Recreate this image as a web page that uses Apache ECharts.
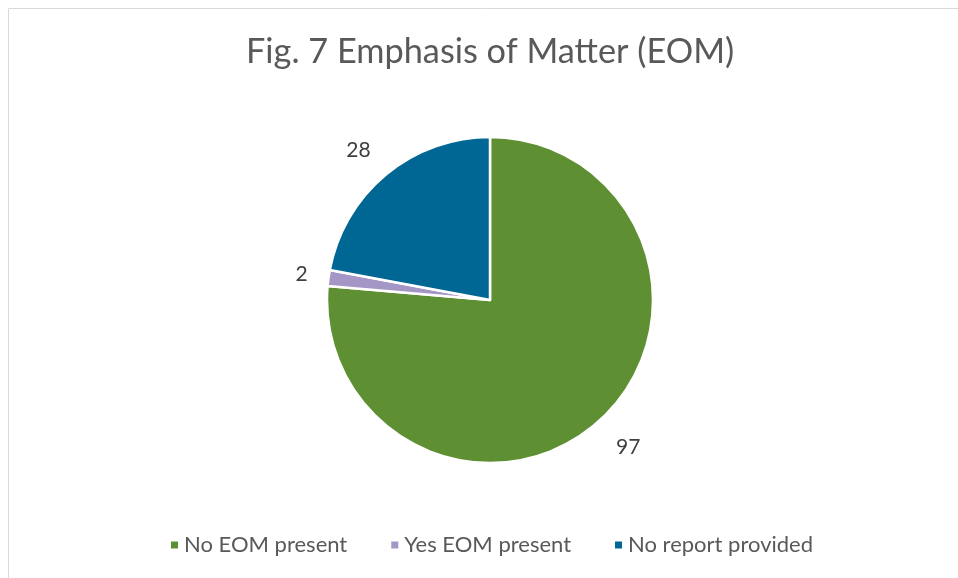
<!DOCTYPE html>
<html>
<head>
<meta charset="utf-8">
<script src="https://cdn.jsdelivr.net/npm/echarts@6/dist/echarts.min.js"></script>
<style>html,body{margin:0;padding:0;background:#fff;}#c{width:958px;height:578px;}</style>
</head>
<body>
<div id="c"></div>
<script>
const titleText = 'Fig. 7 Emphasis of Matter (EOM)';
const categories = ['No EOM present', 'Yes EOM present', 'No report provided'];
const values = [97, 2, 28];
const colors = ['#5E8F32', '#A497C6', '#006694'];
const labelShiftY = [15, -1, -12];

const chart = echarts.init(document.getElementById('c'), null, {renderer: 'canvas'});
chart.setOption({
  animation: false,
  color: colors,
  title: {
    text: titleText, left: 241, top: 30,
    textStyle: {fontFamily: 'Lato', fontSize: 34.3, fontWeight: 'normal', color: '#595959'}
  },
  graphic: [{
    type: 'rect', shape: {x: 8.5, y: 8.5, width: 1000, height: 1000},
    style: {fill: 'none', stroke: '#d9d9d9', lineWidth: 1}, silent: true, z: -1
  }],
  legend: {
    bottom: 17, left: 164, itemWidth: 9, itemHeight: 9, itemGap: 42,
    icon: 'rect',
    textStyle: {fontFamily: 'Lato', fontSize: 22, color: '#595959'},
    data: categories
  },
  series: [{
    type: 'pie',
    center: [490, 300],
    radius: 163,
    startAngle: 90,
    clockwise: true,
    avoidLabelOverlap: false,
    itemStyle: {borderColor: '#fff', borderWidth: 2.5},
    label: {
      show: true, position: 'outside', formatter: '{c}',
      fontFamily: 'Lato', fontSize: 21, color: '#404040'
    },
    labelLine: {show: false, length: 16, length2: 0},
    labelLayout: function (p) { return {dy: labelShiftY[p.dataIndex]}; },
    data: categories.map((n, i) => ({name: n, value: values[i]}))
  }]
});
</script>
</body>
</html>
